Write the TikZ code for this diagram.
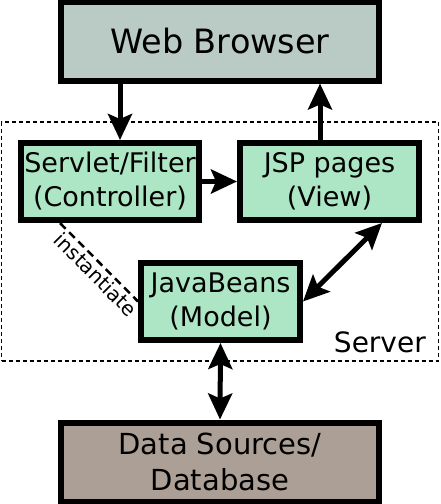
\documentclass[tikz,border=0pt]{standalone}
\usepackage{fontspec}
\setmainfont{DejaVu Sans}
\usetikzlibrary{arrows.meta}
\definecolor{wbfill}{RGB}{186,202,196}
\definecolor{mvcfill}{RGB}{172,230,196}
\definecolor{dbfill}{RGB}{172,160,150}
\tikzset{
  box/.style={draw=black, line width=6pt, inner sep=0pt, align=center},
  boxtext/.style={font=\fontsize{27}{34}\selectfont},
  arr/.style={line width=5pt, -{Stealth[length=26pt,width=24pt,inset=5pt]}},
  dblarr/.style={line width=5pt, {Stealth[length=26pt,width=24pt,inset=5pt]}-{Stealth[length=26pt,width=24pt,inset=5pt]}},
  serverbox/.style={draw=black, line width=1.5pt, dash pattern=on 4pt off 3pt, inner sep=0pt},
  instline/.style={draw=black, line width=2.5pt, dash pattern=on 8pt off 5pt},
}
\begin{document}
\begin{tikzpicture}[x=1pt,y=-1pt]
\useasboundingbox (0,0) rectangle (440,504);
% server region
\node[serverbox, minimum width=437pt, minimum height=239pt] (server) at (220,241.5) {};
\node[anchor=base east, font=\fontsize{28}{34}\selectfont, inner sep=0pt] (serverlbl) at (426,352) {Server};
% boxes
\node[box, fill=wbfill, minimum width=318pt, minimum height=79pt, font=\fontsize{33.5}{40}\selectfont] (wb) at (220,41) {Web Browser};
\node[box, boxtext, fill=mvcfill, minimum width=178pt, minimum height=77pt] (servlet) at (110,181.5) {Servlet/Filter\\(Controller)};
\node[box, boxtext, fill=mvcfill, minimum width=179pt, minimum height=77pt] (jsp) at (329.5,181.5) {JSP pages\\(View)};
\node[box, boxtext, fill=mvcfill, minimum width=159pt, minimum height=77pt] (jb) at (220.5,301.5) {JavaBeans\\(Model)};
\node[box, fill=dbfill, minimum width=318pt, minimum height=79pt, font=\fontsize{29}{36}\selectfont] (db) at (220,462) {Data Sources/\\Database};
% connectors
\draw[arr] ([xshift=10pt]servlet.north |- wb.south) -- ([xshift=10pt]servlet.north);
\draw[arr] ([xshift=-9.5pt]jsp.north) -- ([xshift=-9.5pt]jsp.north |- wb.south);
\draw[arr] (servlet.east) -- (jsp.west);
\draw[dblarr] ([xshift=-40pt]jsp.south east) -- (jb.east);
\draw[dblarr] (jb.south) -- (db.north);
\draw[instline] ([xshift=42pt]servlet.south west) -- (jb.west)
  node[pos=0.56, sloped, below, inner sep=2pt, font=\fontsize{20}{24}\selectfont] (inst) {instantiate};
\end{tikzpicture}
\end{document}
